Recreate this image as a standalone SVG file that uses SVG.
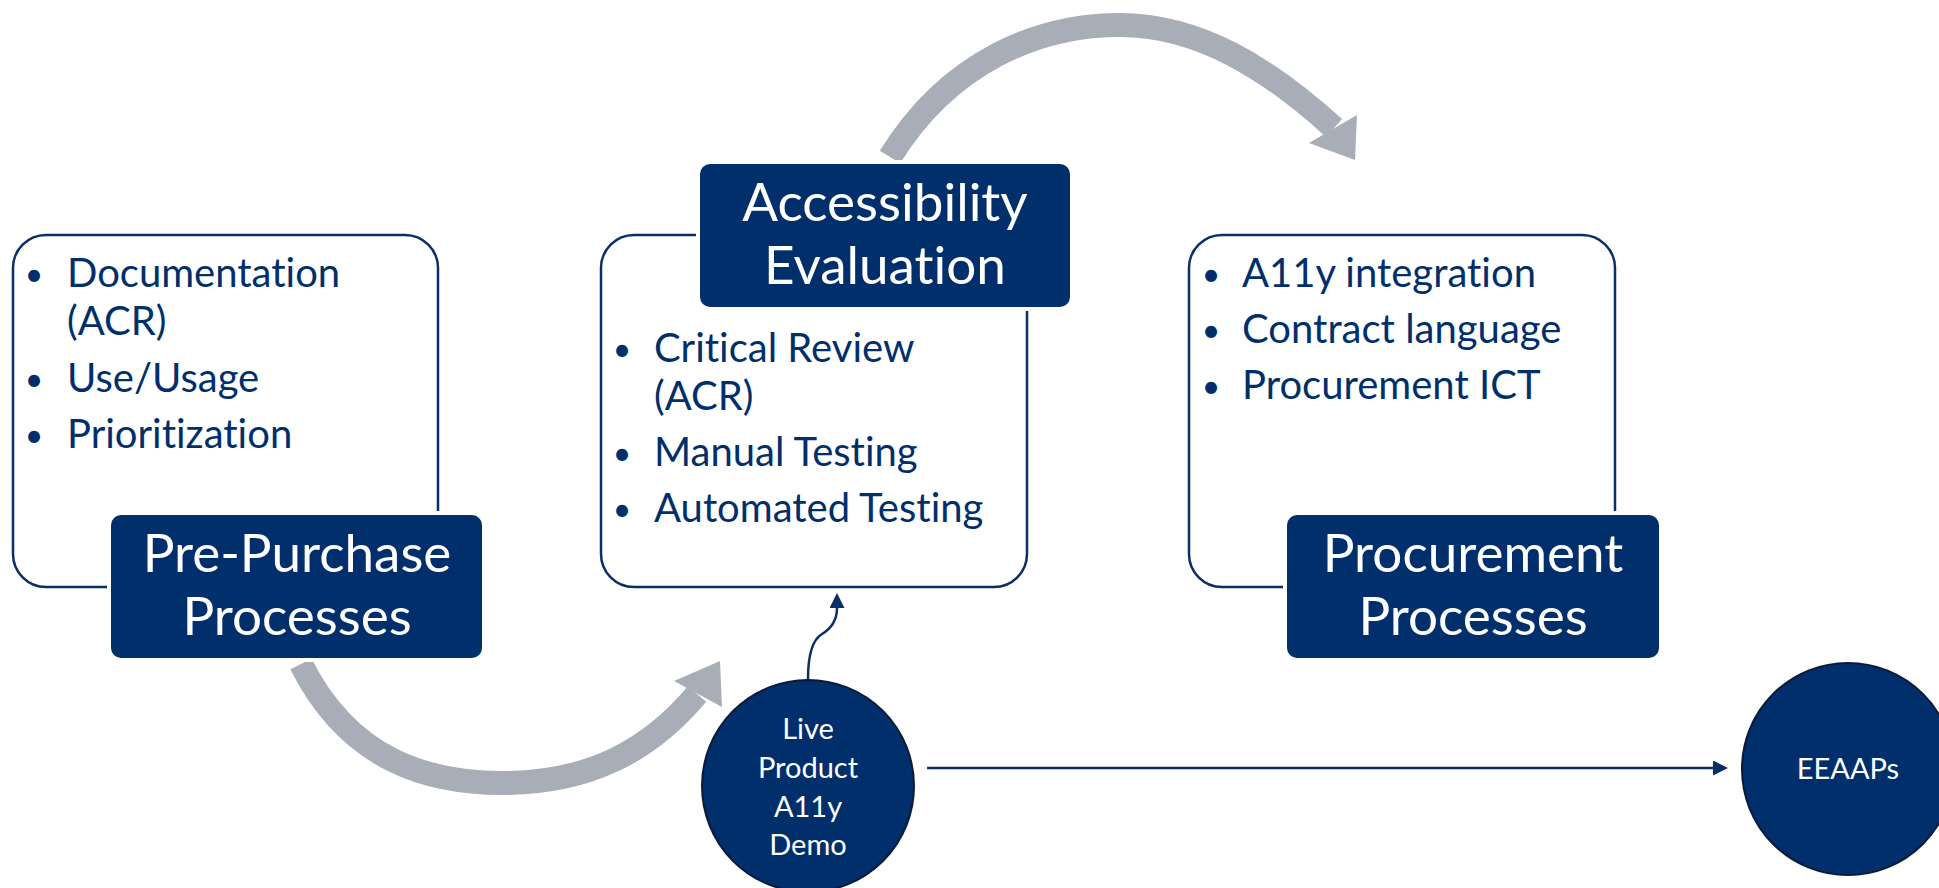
<svg xmlns="http://www.w3.org/2000/svg" width="1939" height="888" viewBox="0 0 1939 888">
<defs>
<style>
text{font-variant-ligatures:none;font-feature-settings:"liga" 0}
.outline{fill:#fff;stroke:#0B2E6B;stroke-width:2.5}
.label{fill:#002F6C;stroke:#fff;stroke-width:4}
.ltxt{font-family:Lato,"Liberation Sans",sans-serif;font-size:53px;fill:#fff;text-anchor:middle}
.btxt{font-family:Lato,"Liberation Sans",sans-serif;font-size:40px;fill:#002F6C}
.dot{font-family:Lato,"Liberation Sans",sans-serif;font-size:32px;fill:#002F6C;text-anchor:middle}
.circ{fill:#002F6C;stroke:#0A1A3A;stroke-width:2}
.ctxt{font-family:Lato,"Liberation Sans",sans-serif;font-size:29px;fill:#fff;text-anchor:middle}
.band{fill:none;stroke:#A9ADB8;stroke-width:24}
.head{fill:#A9ADB8}
.nav{fill:none;stroke:#0B2E6B;stroke-width:2.5}
</style>
<marker id="ah" viewBox="0 0 10 10" refX="0" refY="5" markerWidth="15" markerHeight="15" markerUnits="userSpaceOnUse" orient="auto">
<path d="M0,0 L10,5 L0,10 z" fill="#0B2E6B"/>
</marker>
</defs>
<rect width="1939" height="888" fill="#fff"/>

<g id="connectors">
<path class="band" d="M301,664 C350,762 430,783 503,783 C590,783 650,750 697,694"/>
<polygon class="head" points="674,681 720,661 722,707"/>
<path class="band" d="M890,157 C950,60 1040,25 1120,25 C1200,25 1270,70 1334,128"/>
<polygon class="head" points="1309,143 1355,160 1357,115"/>
<path class="nav" marker-end="url(#ah)" d="M808,679 C808,655 812,640 822,634 C832,628 837,620 837,608"/>
<line class="nav" x1="927" y1="768" x2="1713" y2="768" marker-end="url(#ah)"/>
</g>

<g id="node-prepurchase">
<rect class="outline" x="13" y="235" width="425" height="352" rx="33"/>
<text class="dot" x="34" y="286">•</text>
<text class="btxt" x="67" y="287">Documentation</text>
<text class="btxt" x="67" y="335">(ACR)</text>
<text class="dot" x="34" y="391">•</text>
<text class="btxt" x="67" y="392">Use/Usage</text>
<text class="dot" x="34" y="447">•</text>
<text class="btxt" x="67" y="448">Prioritization</text>
<rect class="label" x="109" y="513" width="375" height="147" rx="12"/>
<text class="ltxt" x="297" y="572">Pre-Purchase</text>
<text class="ltxt" x="297" y="635">Processes</text>
</g>

<g id="node-accessibility">
<rect class="outline" x="601" y="235" width="426" height="352" rx="33"/>
<rect class="label" x="698" y="162" width="374" height="147" rx="12"/>
<text class="ltxt" x="885" y="221">Accessibility</text>
<text class="ltxt" x="885" y="284">Evaluation</text>
<text class="dot" x="622" y="361">•</text>
<text class="btxt" x="654" y="362">Critical Review</text>
<text class="btxt" x="654" y="410">(ACR)</text>
<text class="dot" x="622" y="465">•</text>
<text class="btxt" x="654" y="466">Manual Testing</text>
<text class="dot" x="622" y="521">•</text>
<text class="btxt" x="654" y="522">Automated Testing</text>
</g>

<g id="node-procurement">
<rect class="outline" x="1189" y="235" width="426" height="352" rx="33"/>
<text class="dot" x="1211" y="286">•</text>
<text class="btxt" x="1242" y="287">A11y integration</text>
<text class="dot" x="1211" y="342">•</text>
<text class="btxt" x="1242" y="343">Contract language</text>
<text class="dot" x="1211" y="398">•</text>
<text class="btxt" x="1242" y="399">Procurement ICT</text>
<rect class="label" x="1285" y="513" width="376" height="147" rx="12"/>
<text class="ltxt" x="1473" y="572">Procurement</text>
<text class="ltxt" x="1473" y="635">Processes</text>
</g>

<g id="node-live-demo">
<circle class="circ" cx="808" cy="786" r="106"/>
<text class="ctxt" x="808" y="739">Live</text>
<text class="ctxt" x="808" y="778">Product</text>
<text class="ctxt" x="808" y="817">A11y</text>
<text class="ctxt" x="808" y="855">Demo</text>
</g>

<g id="node-eeaaps">
<circle class="circ" cx="1848" cy="769" r="106"/>
<text class="ctxt" x="1848" y="779">EEAAPs</text>
</g>
</svg>
